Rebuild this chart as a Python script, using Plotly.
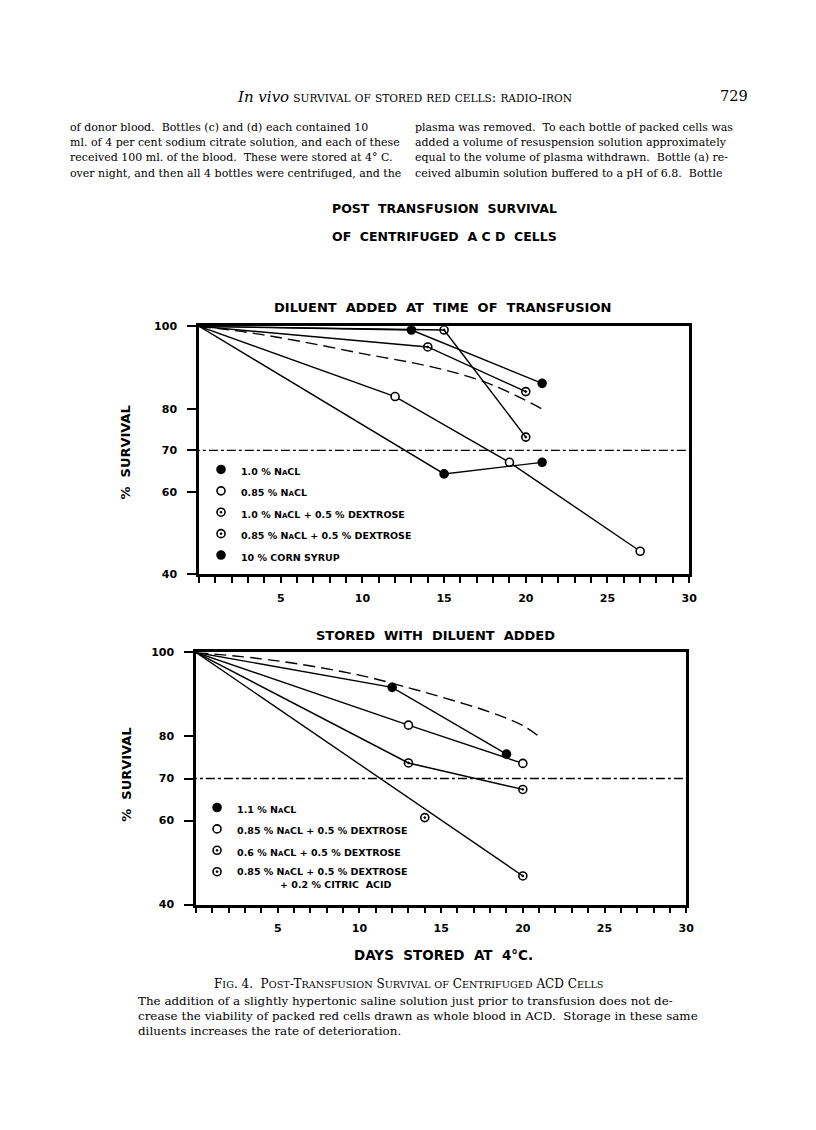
import plotly.graph_objects as go

W, H = 816, 1130

# ---------------- data: chart 1 (diluent added at time of transfusion) ----------------
c1_nacl10_days = [0, 13, 21]
c1_nacl10_vals = [100, 99.1, 86.2]
c1_nacl085_days = [0, 12, 19, 27]
c1_nacl085_vals = [100, 83.0, 67.1, 45.6]
c1_nacl10dex_days = [0, 15, 20]
c1_nacl10dex_vals = [100, 99.1, 73.2]
c1_nacl085dex_days = [0, 14, 20]
c1_nacl085dex_vals = [100, 95.0, 84.2]
c1_corn_days = [0, 15, 21]
c1_corn_vals = [100, 64.3, 67.1]
c1_ref_days = [0, 3, 6, 10, 14, 17, 19, 21]
c1_ref_vals = [100, 98.5, 96.5, 93.4, 90.4, 87.2, 84.0, 80.0]

# ---------------- data: chart 2 (stored with diluent added) ----------------
c2_nacl11_days = [0, 12, 19]
c2_nacl11_vals = [100, 91.7, 75.8]
c2_085dex_days = [0, 13, 20]
c2_085dex_vals = [100, 82.7, 73.6]
c2_06dex_days = [0, 13, 20]
c2_06dex_vals = [100, 73.7, 67.4]
c2_citric_days = [0, 14, 20]
c2_citric_vals = [100, 60.7, 46.8]
c2_citric_fit_days = [0, 20]
c2_citric_fit_vals = [100, 46.8]
c2_ref_days = [0, 5, 10, 13, 15, 18, 20, 21]
c2_ref_vals = [100, 98.0, 94.6, 91.6, 89.4, 85.8, 82.6, 80.0]

threshold = 70
x_tick_days = list(range(0, 31))
y_tick_vals = [40, 60, 70, 80, 100]
y_tick_text = ["40", "60", "70", "80", "100"]

# ---------------- helpers ----------------
def px(x):
    return x / W

def py(y):
    return 1 - y / H

NACL = 'N<span style="font-size:7px">A</span>CL'
CHART_FONT = "DejaVu Sans"
SERIF = "DejaVu Serif"

fig = go.Figure()

def add_series(days, vals, name, symbol, xa, ya, legend, fill="black"):
    fig.add_trace(go.Scatter(x=days, y=vals, mode="lines", line=dict(color="black", width=1.4),
                             xaxis=xa, yaxis=ya, showlegend=False, hoverinfo="skip"))
    fig.add_trace(go.Scatter(x=days[1:], y=vals[1:], mode="markers", name=name,
                             marker=dict(symbol=symbol, size=8, color=fill,
                                         line=dict(color="black", width=1.6)),
                             xaxis=xa, yaxis=ya, legend=legend, legendgroup=name + legend))

DASH = "12px,6px"

# chart 1
fig.add_trace(go.Scatter(x=c1_ref_days, y=c1_ref_vals, mode="lines",
                         line=dict(color="black", width=1.4, dash=DASH, shape="spline"),
                         xaxis="x", yaxis="y", showlegend=False))
add_series(c1_nacl10_days, c1_nacl10_vals, "1.0 % " + NACL, "circle", "x", "y", "legend")
add_series(c1_nacl085_days, c1_nacl085_vals, "0.85 % " + NACL, "circle", "x", "y", "legend", fill="white")
add_series(c1_nacl10dex_days, c1_nacl10dex_vals, "1.0 % " + NACL + " + 0.5 % DEXTROSE", "circle-open-dot", "x", "y", "legend")
add_series(c1_nacl085dex_days, c1_nacl085dex_vals, "0.85 % " + NACL + " + 0.5 % DEXTROSE", "circle-open-dot", "x", "y", "legend")
add_series(c1_corn_days, c1_corn_vals, "10 % CORN SYRUP", "circle", "x", "y", "legend")

# chart 2
fig.add_trace(go.Scatter(x=c2_ref_days, y=c2_ref_vals, mode="lines",
                         line=dict(color="black", width=1.4, dash=DASH, shape="spline"),
                         xaxis="x2", yaxis="y2", showlegend=False))
add_series(c2_nacl11_days, c2_nacl11_vals, "1.1 % " + NACL, "circle", "x2", "y2", "legend2")
add_series(c2_085dex_days, c2_085dex_vals, "0.85 % " + NACL + " + 0.5 % DEXTROSE", "circle", "x2", "y2", "legend2", fill="white")
add_series(c2_06dex_days, c2_06dex_vals, "0.6 % " + NACL + " + 0.5 % DEXTROSE", "circle-open-dot", "x2", "y2", "legend2")
fig.add_trace(go.Scatter(x=c2_citric_fit_days, y=c2_citric_fit_vals, mode="lines",
                         line=dict(color="black", width=1.4), xaxis="x2", yaxis="y2",
                         showlegend=False, hoverinfo="skip"))
fig.add_trace(go.Scatter(x=c2_citric_days[1:], y=c2_citric_vals[1:], mode="markers",
                         name="0.85 % " + NACL + " + 0.5 % DEXTROSE<br>" + "\u00a0" * 13 + "+ 0.2 % CITRIC  ACID",
                         marker=dict(symbol="circle-open-dot", size=8, color="black",
                                     line=dict(color="black", width=1.6)),
                         xaxis="x2", yaxis="y2", legend="legend2", legendgroup="citric"))

# threshold lines
for xr, yr in (("x", "y"), ("x2", "y2")):
    fig.add_shape(type="line", xref=xr, yref=yr, x0=-0.5, x1=30, y0=threshold, y1=threshold,
                  line=dict(color="black", width=1.4, dash="dashdot"))

# ---------------- axes ----------------
xt_text = [str(d) if d % 5 == 0 and d > 0 else "" for d in x_tick_days]
axis_common = dict(showgrid=False, zeroline=False, showline=True, linecolor="black",
                   linewidth=2.5, mirror=True, ticks="outside", tickcolor="black",
                   tickfont=dict(family=CHART_FONT, size=11, color="black", weight="bold"))

xaxis_common = dict(axis_common, range=[0, 30], tickmode="array", tickvals=x_tick_days,
                    ticktext=xt_text, ticklen=6, tickwidth=1.5, ticklabelstandoff=6)
yaxis_common = dict(axis_common, range=[40, 100], tickmode="array", tickvals=y_tick_vals,
                    ticktext=y_tick_text, ticklen=9, tickwidth=1.5, ticklabelstandoff=8)

fig.update_layout(
    width=W, height=H, autosize=False,
    margin=dict(l=0, r=0, t=0, b=0),
    paper_bgcolor="white", plot_bgcolor="white",
    xaxis=dict(xaxis_common, domain=[px(201), px(696)], anchor="y"),
    yaxis=dict(yaxis_common, domain=[py(575), py(324)], anchor="x"),
    xaxis2=dict(xaxis_common, domain=[px(198), px(693)], anchor="y2"),
    yaxis2=dict(yaxis_common, domain=[py(909), py(654)], anchor="x2"),
    showlegend=True,
    legend=dict(x=px(203), y=py(456), xanchor="left", yanchor="top", bgcolor="rgba(0,0,0,0)",
                font=dict(family=CHART_FONT, size=9.5, color="black", weight="bold"),
                traceorder="grouped", tracegroupgap=2.4, valign="top"),
    legend2=dict(x=px(199), y=py(798), xanchor="left", yanchor="top", bgcolor="rgba(0,0,0,0)",
                 font=dict(family=CHART_FONT, size=9.5, color="black", weight="bold"),
                 traceorder="grouped", tracegroupgap=2.4, valign="top"),
)

# ---------------- text annotations ----------------
def ann(text, x, y, size, family=CHART_FONT, bold=False, anchor="center", angle=0):
    fig.add_annotation(text=text, x=px(x), y=py(y), xref="paper", yref="paper",
                       xanchor=anchor, yanchor="middle", showarrow=False, textangle=angle,
                       font=dict(family=family, size=size, color="black",
                                 weight="bold" if bold else "normal"))

def smallcaps(text, small):
    out = []
    for ch in text:
        if ch.islower():
            out.append('<span style="font-size:%spx">%s</span>' % (small, ch.upper()))
        else:
            out.append(ch)
    return "".join(out)

# running head
ann('<i><span style="font-size:15px">In vivo</span></i> ' + smallcaps("survival of stored red cells: radio-iron", 10.6),
    408, 92, 13, family=SERIF)
ann("729", 757, 91, 14.5, family=SERIF, anchor="right")

left_lines = [
    "of donor blood.  Bottles (c) and (d) each contained 10",
    "ml. of 4 per cent sodium citrate solution, and each of these",
    "received 100 ml. of the blood.  These were stored at 4° C.",
    "over night, and then all 4 bottles were centrifuged, and the",
]
right_lines = [
    "plasma was removed.  To each bottle of packed cells was",
    "added a volume of resuspension solution approximately",
    "equal to the volume of plasma withdrawn.  Bottle (a) re-",
    "ceived albumin solution buffered to a pH of 6.8.  Bottle",
]
body_y = [123, 138.3, 153.6, 169]
for t, y in zip(left_lines, body_y):
    ann(t, 69, y, 11, family=SERIF, anchor="left")
for t, y in zip(right_lines, body_y):
    ann(t, 417, y, 11, family=SERIF, anchor="left")

# figure titles
ann("POST  TRANSFUSION  SURVIVAL", 333, 205, 12.5, bold=True, anchor="left")
ann("OF  CENTRIFUGED  A C D  CELLS", 333, 233, 12.5, bold=True, anchor="left")
ann("DILUENT  ADDED  AT  TIME  OF  TRANSFUSION", 447, 305, 13, bold=True)
ann("STORED  WITH  DILUENT  ADDED", 440, 637, 13, bold=True)
ann("%  SURVIVAL", 127, 452, 13, bold=True, angle=-90)
ann("%  SURVIVAL", 127, 778, 13, bold=True, angle=-90)
ann("DAYS  STORED  AT  4°C.", 448, 960, 13.5, bold=True)

# caption
ann(smallcaps("Fig. 4.  Post-Transfusion Survival of Centrifuged ACD Cells", 9.7),
    413, 989, 12, family=SERIF)
cap_lines = [
    "The addition of a slightly hypertonic saline solution just prior to transfusion does not de-",
    "crease the viability of packed red cells drawn as whole blood in ACD.  Storage in these same",
    "diluents increases the rate of deterioration.",
]
for t, y in zip(cap_lines, [1007, 1022, 1037]):
    ann(t, 137, y, 11.9, family=SERIF, anchor="left")

fig.write_html("out.html", config={"displayModeBar": False},
               post_script="document.body.style.margin='0px';")
